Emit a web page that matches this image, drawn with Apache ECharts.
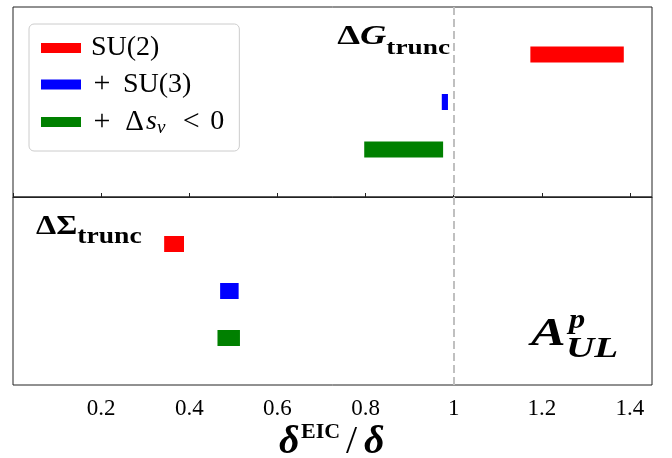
<!DOCTYPE html>
<html><head><meta charset="utf-8">
<script src="https://cdn.jsdelivr.net/npm/echarts@6/dist/echarts.min.js"></script>
<style>html,body{margin:0;padding:0;background:#fff}#c{width:672px;height:458px}</style>
</head><body><div id="c"></div>
<script>
// ---- data ----
const seriesNames = ['SU(2)', '+ SU(3)', '+ Δs_v < 0'];
const seriesColors = ['#ff0000', '#0000ff', '#008000'];
const rowPositions = [1, 2, 3];
const deltaG_low = [1.174, 0.973, 0.797];
const deltaG_high = [1.386, 0.987, 0.976];
const deltaSigma_low = [0.343, 0.470, 0.464];
const deltaSigma_high = [0.388, 0.512, 0.515];
const xMin = 0, xMax = 1.45, xStep = 0.2;
const referenceLine = 1;

const FONT = "'Liberation Serif', 'Times New Roman', serif";
const INK = '#222';

function renderBar(params, api) {
  const a = api.coord([api.value(0), api.value(2)]);
  const b = api.coord([api.value(1), api.value(2)]);
  const h = 16;
  return { type: 'rect', shape: { x: a[0], y: a[1] - h / 2, width: b[0] - a[0], height: h }, style: api.style() };
}

const series = [];
const panels = [[deltaG_low, deltaG_high], [deltaSigma_low, deltaSigma_high]];
panels.forEach((p, gi) => {
  seriesNames.forEach((name, i) => {
    series.push({
      name: name, type: 'custom', coordinateSystem: 'cartesian2d',
      xAxisIndex: gi, yAxisIndex: gi,
      itemStyle: { color: seriesColors[i] },
      encode: { x: [0, 1], y: 2 },
      data: [[p[0][i], p[1][i], rowPositions[i]]],
      renderItem: renderBar
    });
  });
  series.push({
    name: 'ref' + gi, type: 'line', xAxisIndex: gi, yAxisIndex: gi, data: [], silent: true,
    markLine: { silent: true, symbol: 'none', label: { show: false },
      lineStyle: { color: '#c0c0c0', width: 2, type: [8, 4] },
      data: [{ xAxis: referenceLine }] }
  });
});

function tickFmt(v) {
  if (v === 0) return '';
  const r = Math.round(v / xStep) * xStep;
  if (Math.abs(r - v) > 1e-6) return '';
  return String(+v.toFixed(1));
}

const baseX = { type: 'value', min: xMin, max: xMax, interval: xStep, splitLine: { show: false } };
const baseY = { type: 'value', min: 0, max: 4, inverse: true, axisLine: { show: false }, axisTick: { show: false }, axisLabel: { show: false }, splitLine: { show: false } };

function legendFmt(name) {
  if (name === '+ Δs_v < 0') return '{g|}{pl|+}{g10|}{dl|Δ}{i|s}{sub|v}{g17|}{lt|<}{g10|}{n|0}';
  if (name === '+ SU(3)') return '{g|}{pl|+}{g10|}{n|SU(3)}';
  return '{g|}{n|' + name + '}';
}

const option = {
  animation: false,
  textStyle: { fontFamily: FONT },
  grid: [
    { left: 13, right: 20, top: 7, height: 190, show: true, borderColor: INK, borderWidth: 1, backgroundColor: 'transparent', containLabel: false, outerBoundsMode: 'none' },
    { left: 13, right: 20, top: 197, height: 188, show: true, borderColor: INK, borderWidth: 1, backgroundColor: 'transparent', containLabel: false, outerBoundsMode: 'none' }
  ],
  xAxis: [
    Object.assign({}, baseX, { gridIndex: 0, axisLine: { show: false }, axisTick: { show: false }, axisLabel: { show: false } }),
    Object.assign({}, baseX, { gridIndex: 1,
      axisLine: { show: true, lineStyle: { color: INK, width: 1 } },
      axisTick: { show: true, inside: true, length: 4, lineStyle: { color: INK } },
      axisLabel: { formatter: tickFmt, fontFamily: FONT, fontSize: 23, color: '#000', margin: 12, showMaxLabel: false },
      name: '{d|δ}{s|EIC}{n|/}{d|δ}', nameLocation: 'middle', nameGap: 30,
      nameTextStyle: { rich: {
        d: { fontFamily: FONT, fontSize: 40, fontWeight: 'bold', fontStyle: 'italic', color: '#000', lineHeight: 44, width: 22, align: 'left' },
        s: { fontFamily: FONT, fontSize: 22, fontWeight: 'bold', color: '#000', lineHeight: 26, verticalAlign: 'top', width: 45, align: 'left' },
        n: { fontFamily: FONT, fontSize: 40, color: '#000', lineHeight: 44, width: 18, align: 'left' }
      } }
    })
  ],
  yAxis: [Object.assign({}, baseY, { gridIndex: 0 }), Object.assign({}, baseY, { gridIndex: 1 })],
  legend: {
    data: seriesNames, orient: 'vertical', left: 29, top: 24,
    padding: [10, 15, 14, 12], itemGap: 7.5, itemWidth: 40, itemHeight: 10, icon: 'rect',
    backgroundColor: 'rgba(255,255,255,0.8)', borderColor: '#cccccc', borderWidth: 1, borderRadius: 5,
    selectedMode: false, formatter: legendFmt,
    textStyle: { fontFamily: FONT, rich: {
      g: { width: 5 },
      g10: { width: 10 },
      g17: { width: 17 },
      pl: { fontFamily: FONT, fontSize: 30, color: '#000', lineHeight: 30, width: 22, align: 'center' },
      lt: { fontFamily: FONT, fontSize: 30, color: '#000', lineHeight: 30, width: 18, align: 'center' },
      dl: { fontFamily: FONT, fontSize: 29, color: '#000', lineHeight: 30, width: 23, align: 'left' },
      n: { fontFamily: FONT, fontSize: 28, color: '#000', lineHeight: 30 },
      i: { fontFamily: FONT, fontSize: 28, fontStyle: 'italic', color: '#000', lineHeight: 30 },
      sub: { fontFamily: FONT, fontSize: 19, fontStyle: 'italic', color: '#000', lineHeight: 20, verticalAlign: 'bottom' }
    } }
  },
  graphic: [
    { type: 'text', x: 450, y: 37, scaleX: 1.3, style: { text: '{a|Δ}{b|G}{c|trunc}', align: 'right', verticalAlign: 'middle',
      rich: { a: { fontFamily: FONT, fontSize: 28, fontWeight: 'bold', fill: '#000', lineHeight: 44 },
              b: { fontFamily: FONT, fontSize: 28, fontWeight: 'bold', fontStyle: 'italic', fill: '#000', lineHeight: 44 },
              c: { fontFamily: FONT, fontSize: 21, fontWeight: 'bold', fill: '#000', lineHeight: 12, verticalAlign: 'bottom' } } } },
    { type: 'text', x: 36, y: 227, scaleX: 1.15, style: { text: '{a|ΔΣ}{c|trunc}', align: 'left', verticalAlign: 'middle',
      rich: { a: { fontFamily: FONT, fontSize: 28, fontWeight: 'bold', fill: '#000', lineHeight: 44 },
              c: { fontFamily: FONT, fontSize: 24, fontWeight: 'bold', fill: '#000', lineHeight: 12, verticalAlign: 'bottom' } } } },
    { type: 'text', x: 531, y: 335, scaleX: 1.3, style: { text: 'A', align: 'left', verticalAlign: 'middle', fontFamily: FONT, fontWeight: 'bold', fontStyle: 'italic', fontSize: 40, fill: '#000' } },
    { type: 'text', x: 569, y: 321, scaleX: 1.2, style: { text: 'p', align: 'left', verticalAlign: 'middle', fontFamily: FONT, fontWeight: 'bold', fontStyle: 'italic', fontSize: 27, fill: '#000' } },
    { type: 'text', x: 566, y: 350, scaleX: 1.35, style: { text: 'UL', align: 'left', verticalAlign: 'middle', fontFamily: FONT, fontWeight: 'bold', fontStyle: 'italic', fontSize: 29, fill: '#000' } }
  ],
  series: series
};

const chart = echarts.init(document.getElementById('c'), null, { renderer: 'canvas' });
chart.setOption(option);
</script>
</body></html>
